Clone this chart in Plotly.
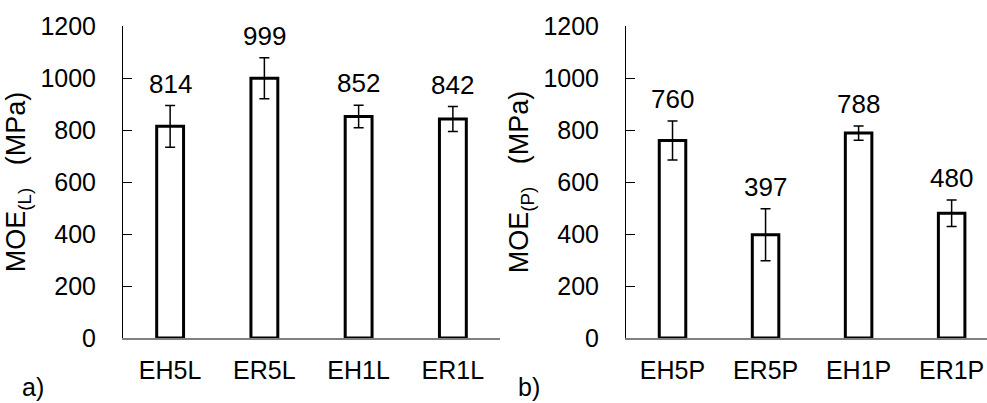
import plotly.graph_objects as go

cats_l = ["EH5L", "ER5L", "EH1L", "ER1L"]
vals_l = [814, 999, 852, 842]
err_l = [80, 79, 43, 48]

cats_p = ["EH5P", "ER5P", "EH1P", "ER1P"]
vals_p = [760, 397, 788, 480]
err_p = [75, 100, 27, 51]

yticks = [0, 200, 400, 600, 800, 1000, 1200]

FONT = "Liberation Sans, Arial, sans-serif"

fig = go.Figure()

def add_panel(cats, vals, errs, xa, ya):
    fig.add_trace(go.Bar(
        x=list(range(len(cats))), y=vals, width=0.285,
        marker=dict(color="white", line=dict(color="black", width=3)),
        error_y=dict(type="data", array=errs, visible=True, color="black",
                     thickness=1.5, width=5),
        xaxis=xa, yaxis=ya, showlegend=False, hoverinfo="skip",
    ))
    for i, (v, e) in enumerate(zip(vals, errs)):
        fig.add_annotation(x=i, y=v + e, xref=xa, yref=ya, text=str(v),
                           showarrow=False, yanchor="middle", yshift=22,
                           font=dict(family=FONT, size=26, color="black"))

add_panel(cats_l, vals_l, err_l, "x", "y")
add_panel(cats_p, vals_p, err_p, "x2", "y2")

H = 403
W = 987
ydom = [(H - 338) / H, (H - 26) / H]

common_x = dict(range=[-0.5, 3.5], showline=True, linecolor="#808080", linewidth=1.5,
                ticks="", showgrid=False, zeroline=False, tickmode="array", automargin=False,
                tickfont=dict(family=FONT, size=25, color="black"), ticklabelstandoff=9)
common_y = dict(range=[0, 1200], showline=True, linecolor="black", linewidth=1,
                ticks="inside", ticklen=9, tickwidth=1, tickcolor="black",
                tickvals=yticks, ticktext=[str(t) for t in yticks],
                showgrid=False, zeroline=False, automargin=False,
                tickfont=dict(family=FONT, size=25, color="black"),
                ticklabelstandoff=21, domain=ydom)

fig.update_layout(
    width=W, height=H, margin=dict(l=0, r=0, t=0, b=0),
    plot_bgcolor="white", paper_bgcolor="white",
    xaxis=dict(domain=[123 / W, 500 / W], anchor="y", tickvals=list(range(4)),
               ticktext=cats_l, **common_x),
    xaxis2=dict(domain=[626 / W, 1.0], anchor="y2", tickvals=list(range(4)),
                ticktext=cats_p, **{**common_x, "range": [-0.5, 3.38]}),
    yaxis=dict(anchor="x", title=dict(text="MOE<sub>(L)</sub>&nbsp;&nbsp;&nbsp;(MPa)",
               font=dict(family=FONT, size=27, color="black"), standoff=6), **common_y),
    yaxis2=dict(anchor="x2", title=dict(text="MOE<sub>(P)</sub>&nbsp;&nbsp;&nbsp;(MPa)",
                font=dict(family=FONT, size=27, color="black"), standoff=6), **common_y),
)

fig.add_annotation(x=20 / W, y=0, xref="paper", yref="paper", text="a)",
                   showarrow=False, xanchor="left", yanchor="bottom",
                   font=dict(family=FONT, size=25, color="black"))
fig.add_annotation(x=516 / W, y=0, xref="paper", yref="paper", text="b)",
                   showarrow=False, xanchor="left", yanchor="bottom",
                   font=dict(family=FONT, size=25, color="black"))

fig.write_html("out.html", config={"displayModeBar": False},
               post_script="document.body.style.margin='0px';document.body.style.overflow='hidden';")
